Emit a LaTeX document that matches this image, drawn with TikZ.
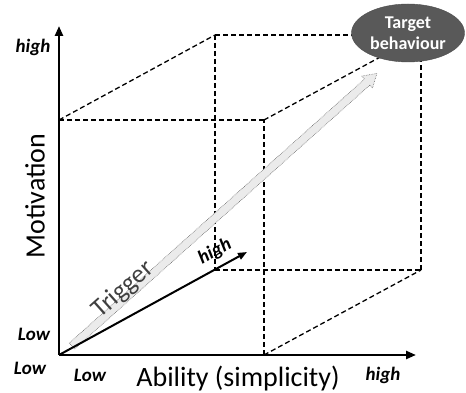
\documentclass[tikz,border=0pt]{standalone}
\usepackage{fontspec}
\setmainfont{Carlito}
\usetikzlibrary{arrows.meta,positioning,shapes.geometric}

\begin{document}
\begin{tikzpicture} [x = 1pt, y = 1pt,
  box/.style = {dash pattern = on 5pt off 3pt, line width = 1.3pt},
  axis/.style = {line width = 2.4pt, -{Triangle[length = 10pt, width = 8pt]}},
  lvl/.style = {font = \fontsize{19}{22}\selectfont\bfseries\itshape, inner sep = 0pt},
  title/.style = {font = \fontsize{28}{32}\selectfont, inner sep = 0pt}]
\useasboundingbox (0,0) rectangle (466,393);
% corners of the cube
\coordinate (o) at (59,38);
\coordinate (a) at (264,38);
\coordinate (m) at (59,273);
\coordinate (am) at (264,273);
\coordinate (d) at (215,123);
\coordinate (ad) at (421,123);
\coordinate (md) at (215,358);
\coordinate (amd) at (421,358);
\coordinate (xend) at (416,38);
\coordinate (yend) at (59,367);
\coordinate (dend) at (247,141);
\path [box]
    (m) edge (am)
    (a) edge (am)
    (m) edge (md)
    (am) edge (amd)
    (a) edge (ad)
    (md) edge (amd)
    (md) edge (d)
    (d) edge (ad)
    (ad) edge (amd);
% trigger
\begin{scope} [shift = {(72,47)}, rotate = 41.8]
\draw [densely dotted, draw = black!60, fill = black!8, line width = 0.6pt]
    (0,-4) -- (396,-4) -- (396,-8) -- (409,0) -- (396,8) -- (396,4) -- (0,4) -- cycle;
\node (trig) [title, font = \fontsize{26}{30}\selectfont, text = black!75, rotate = 41.8, anchor = base] at (76,1) {Trigger};
\end{scope}
% axes
\draw [axis] (o) -- (xend);
\draw [axis] (o) -- (yend);
\draw [line width = 2pt, -{Triangle[length = 9pt, width = 7pt]}] (o) -- (dend);
\node (goal) [ellipse, fill = black!65, draw = black!70, text = white, align = center,
    minimum width = 113pt, minimum height = 58pt, inner sep = 0pt,
    font = \fontsize{18}{21}\selectfont\bfseries] at (408,360) {Target\\behaviour};
\node (yhigh) [lvl] at (33,346) {high};
\node (ylow) [lvl] at (34,59) {Low};
\node (olow) [lvl] at (30,25) {Low};
\node (xlow) [lvl] at (90,18) {Low};
\node (xhigh) [lvl] at (383,18) {high};
\node (dhigh) [lvl, rotate = 28.7] at (215,141) {high};
\node (xname) [title, anchor = base] at (238,6) {Ability (simplicity)};
\node (yname) [title, rotate = 90] at (35,197) {Motivation};
\end{tikzpicture}
\end{document}
